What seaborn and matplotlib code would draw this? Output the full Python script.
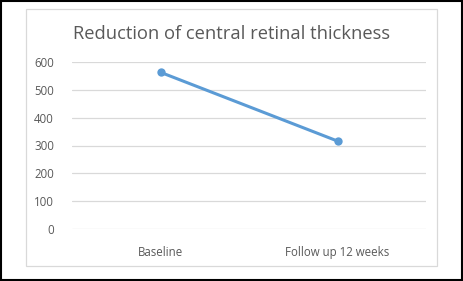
import matplotlib
matplotlib.use("Agg")
import matplotlib.pyplot as plt
import seaborn as sns
import pandas as pd
from matplotlib.patches import Rectangle

categories = ["Baseline", "Follow up 12 weeks"]
values = [563, 316]
yticks = [0, 100, 200, 300, 400, 500, 600]
title = "Reduction of central retinal thickness"

sns.set_theme(style="white")
plt.rcParams['font.family'] = ['Open Sans', 'DejaVu Sans']

df = pd.DataFrame({"cat": categories, "val": values})

fig = plt.figure(figsize=(4.63, 2.81), dpi=100)
ax = fig.add_axes([72/463, 1-229/281, (426-72)/463, (229-62)/281])

sns.lineplot(data=df, x="cat", y="val", ax=ax, color="#5B9BD5", linewidth=2.2,
             marker="o", markersize=6, markeredgewidth=0, sort=False)

ax.set_xlim(-0.5, 1.5)
ax.set_ylim(0, 600)
ax.set_yticks(yticks)
ax.set_yticklabels([str(t) for t in yticks])
ax.yaxis.grid(True, color="#D9D9D9", linewidth=0.9)
ax.set_axisbelow(True)
for s in ax.spines.values():
    s.set_visible(False)
ax.set_xlabel("")
ax.set_ylabel("")
ax.tick_params(axis="y", length=0, pad=13, labelsize=8.3, labelcolor="#595959")
ax.tick_params(axis="x", length=0, pad=12, labelsize=8.3, labelcolor="#595959")

fig.text(232/463, 1-34/281, title, ha="center", va="center", fontsize=13.2, color="#595959")

# inner chart border and outer frame
fig.patches.append(Rectangle((26/463, 1-266/281), (437-26)/463, (266-9)/281,
                             transform=fig.transFigure, fill=False,
                             edgecolor="#D9D9D9", linewidth=0.9))
fig.patches.append(Rectangle((1/463, 1/281), 461/463, 279/281,
                             transform=fig.transFigure, fill=False,
                             edgecolor="black", linewidth=1.5))

fig.savefig("out.png", dpi=100)
